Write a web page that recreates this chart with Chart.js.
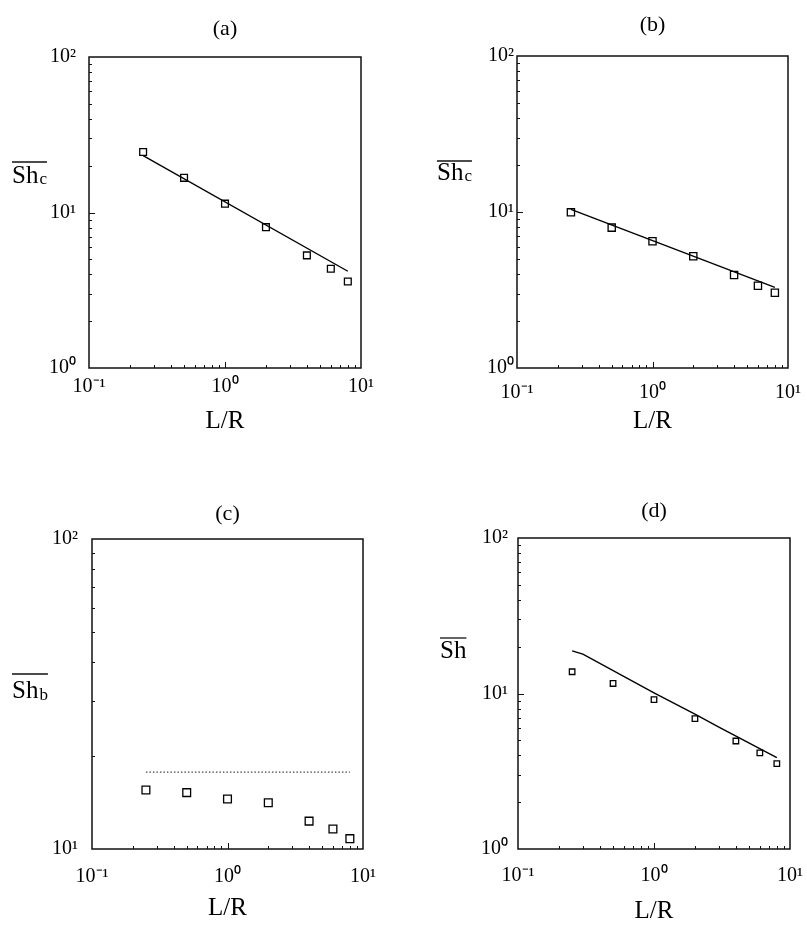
<!DOCTYPE html>
<html>
<head>
<meta charset="utf-8">
<script src="https://cdn.jsdelivr.net/npm/chart.js@4/dist/chart.umd.min.js"></script>
<style>
  html, body { margin: 0; padding: 0; background: #fff; overflow: hidden; }
  #wrap { position: relative; width: 807px; height: 925px; background: #fff; }
  canvas { position: absolute; }
</style>
</head>
<body>
<div id="wrap">
  <canvas id="ca" width="400" height="438" style="left:0px;top:0px"></canvas>
  <canvas id="cb" width="407" height="438" style="left:400px;top:0px"></canvas>
  <canvas id="cc" width="400" height="474" style="left:0px;top:450px"></canvas>
  <canvas id="cd" width="407" height="477" style="left:400px;top:450px"></canvas>
</div>
<script>
// ---------- data ----------
const lOverR = [0.25, 0.5, 1, 2, 4, 6, 8];

const shcA = [24.5, 16.7, 11.4, 8.05, 5.3, 4.35, 3.6];
const fitAX = [0.25, 8];
const fitAY = [23.2, 4.19];

const shcB = [9.95, 7.94, 6.49, 5.2, 3.95, 3.37, 3.04];
const fitBX = [0.25, 8];
const fitBY = [10.4, 3.29];

const shbC = [15.5, 15.2, 14.5, 14.1, 12.3, 11.6, 10.8];
const refCX = [0.25, 8];
const refCY = [17.7, 17.7];

const shD = [13.8, 11.6, 9.14, 6.9, 4.95, 4.15, 3.54];
const fitDX = [0.25, 0.3, 1, 2, 3, 8];
const fitDY = [18.8, 17.9, 10.1, 7.36, 6.07, 3.87];

// ---------- tick labels ----------
const xTickValues = [0.1, 1, 10];
const xTickLabels = ['10\u207B\u00B9', '10\u2070', '10\u00B9'];
const yTickValuesFull = [1, 10, 100];
const yTickLabelsFull = ['10\u2070', '10\u00B9', '10\u00B2'];
const yTickValuesC = [10, 100];
const yTickLabelsC = ['10\u00B9', '10\u00B2'];

const FONT = "'Liberation Serif', 'Times New Roman', serif";

function pairs(xs, ys) { return xs.map((x, i) => ({ x: x, y: ys[i] })); }

// minor tick positions for log axes (1..9 times each decade)
function logMinor(min, max) {
  const out = [];
  for (let e = Math.floor(Math.log10(min)); e < Math.ceil(Math.log10(max)); e++) {
    for (let k = 1; k <= 9; k++) {
      const v = k * Math.pow(10, e);
      if (v > min * 1.0001 && v < max * 0.9999) out.push(v);
    }
  }
  return out;
}

const framePlugin = {
  id: 'frame',
  afterDatasetsDraw(chart, args, opts) {
    const { ctx, chartArea: a, scales } = chart;
    ctx.save();
    ctx.strokeStyle = '#111';
    ctx.lineWidth = 1.5;
    ctx.strokeRect(a.left, a.top, a.right - a.left, a.bottom - a.top);
    ctx.lineWidth = 1;
    // inward ticks on left and bottom axes
    const xs = scales.x, ys = scales.y;
    logMinor(xs.min, xs.max).forEach(v => {
      const p = Math.round(xs.getPixelForValue(v)) + 0.5;
      const len = Math.abs(Math.log10(v) - Math.round(Math.log10(v))) < 1e-6 ? 6 : 3;
      ctx.beginPath(); ctx.moveTo(p, a.bottom); ctx.lineTo(p, a.bottom - len); ctx.stroke();
    });
    logMinor(ys.min, ys.max).forEach(v => {
      const p = Math.round(ys.getPixelForValue(v)) + 0.5;
      const len = Math.abs(Math.log10(v) - Math.round(Math.log10(v))) < 1e-6 ? 6 : 3;
      ctx.beginPath(); ctx.moveTo(a.left, p); ctx.lineTo(a.left + len, p); ctx.stroke();
    });
    // horizontal y-axis label with overline and subscript
    const yl = opts.label;
    if (yl) {
      ctx.fillStyle = '#000';
      ctx.textBaseline = 'alphabetic';
      ctx.textAlign = 'left';
      ctx.font = yl.size + 'px ' + FONT;
      ctx.fillText(yl.text, yl.x, yl.base);
      let w = ctx.measureText(yl.text).width;
      if (yl.sub) {
        ctx.font = yl.subSize + 'px ' + FONT;
        ctx.fillText(yl.sub, yl.x + w + 1, yl.base + yl.subDrop);
        w += 1 + ctx.measureText(yl.sub).width;
      }
      ctx.lineWidth = 1.3;
      ctx.beginPath();
      ctx.moveTo(yl.x, yl.over);
      ctx.lineTo(yl.x + w, yl.over);
      ctx.stroke();
    }
    ctx.restore();
  }
};

function makeChart(id, p) {
  const ticksX = xTickValues, labX = xTickLabels;
  const datasets = [
    {
      data: pairs(lOverR, p.pts),
      showLine: false,
      pointStyle: 'rect',
      pointRadius: p.r,
      pointBorderWidth: 1.3,
      pointBorderColor: '#000',
      pointBackgroundColor: 'rgba(255,255,255,0)',
      borderColor: '#000',
      backgroundColor: 'rgba(255,255,255,0)'
    },
    {
      data: pairs(p.lx, p.ly),
      showLine: true,
      pointRadius: 0,
      borderColor: p.dotted ? '#444' : '#000',
      borderWidth: p.dotted ? 1.2 : 1.4,
      borderDash: p.dotted ? [1.5, 2] : [],
      tension: 0,
      fill: false
    }
  ];
  return new Chart(document.getElementById(id), {
    type: 'scatter',
    data: { datasets: datasets },
    options: {
      responsive: false,
      animation: false,
      devicePixelRatio: 1,
      layout: { padding: { left: 0, top: 0, right: p.w - p.R, bottom: p.h - p.B - p.H } },
      plugins: {
        legend: { display: false },
        tooltip: { enabled: false },
        title: {
          display: true, text: p.title, fullSize: false, color: '#000',
          font: { family: FONT, size: 22, weight: 'normal', lineHeight: 1.2 },
          padding: { top: p.tTop, bottom: p.T - p.tTop - 26.4 }
        },
        frame: { label: p.label }
      },
      scales: {
        x: {
          type: 'logarithmic', position: 'bottom', min: 0.1, max: 10,
          grid: { display: false, drawTicks: false },
          border: { display: false },
          afterBuildTicks: s => { s.ticks = ticksX.map(v => ({ value: v, major: true })); },
          afterFit: s => { s.height = p.H; s.paddingLeft = 0; s.paddingRight = 0; },
          ticks: {
            autoSkip: false, maxRotation: 0, padding: p.xPad, color: '#000',
            font: { family: FONT, size: 20 },
            callback: (v) => { const i = ticksX.findIndex(t => Math.abs(t - v) < 1e-9); return i >= 0 ? labX[i] : ''; }
          },
          title: {
            display: true, text: 'L/R', color: '#000',
            font: { family: FONT, size: 25, lineHeight: 1.2 },
            padding: { top: 0, bottom: p.xtPad }
          }
        },
        y: {
          type: 'logarithmic', position: 'left', min: p.yMin, max: 100,
          grid: { display: false, drawTicks: false },
          border: { display: false },
          afterBuildTicks: s => { s.ticks = p.yVals.map(v => ({ value: v, major: true })); },
          afterFit: s => { s.width = p.L; s.paddingTop = 0; s.paddingBottom = 0; },
          ticks: {
            autoSkip: false, padding: p.yPad, color: '#000',
            font: { family: FONT, size: 20 },
            callback: (v) => { const i = p.yVals.findIndex(t => Math.abs(t - v) < 1e-9); return i >= 0 ? p.yLabs[i] : ''; }
          },
          title: { display: false }
        }
      }
    },
    plugins: [framePlugin]
  });
}

makeChart('ca', {
  title: '(a)', w: 400, h: 438, L: 89, R: 361, T: 57, B: 368, H: 70, tTop: 15.8,
  xPad: 7, xtPad: 2, yPad: 13, yMin: 1, yVals: yTickValuesFull, yLabs: yTickLabelsFull,
  pts: shcA, lx: fitAX, ly: fitAY, r: 4.8,
  label: { text: 'Sh', sub: 'c', x: 12, base: 183, over: 162, size: 25, subSize: 17, subDrop: 1 }
});
makeChart('cb', {
  title: '(b)', w: 407, h: 438, L: 117, R: 388, T: 56, B: 368, H: 70, tTop: 11.8,
  xPad: 12.5, xtPad: 2, yPad: 3, yMin: 1, yVals: yTickValuesFull, yLabs: yTickLabelsFull,
  pts: shcB, lx: fitBX, ly: fitBY, r: 5.1,
  label: { text: 'Sh', sub: 'c', x: 37, base: 180, over: 161, size: 25, subSize: 17, subDrop: 1 }
});
makeChart('cc', {
  title: '(c)', w: 400, h: 474, L: 92, R: 363, T: 89, B: 399, H: 75, tTop: 50.8,
  xPad: 15.5, xtPad: 0.5, yPad: 14, yMin: 10, yVals: yTickValuesC, yLabs: yTickLabelsC,
  pts: shbC, lx: refCX, ly: refCY, r: 5.5, dotted: true,
  label: { text: 'Sh', sub: 'b', x: 12, base: 248, over: 224, size: 25, subSize: 17, subDrop: 2 }
});
makeChart('cd', {
  title: '(d)', w: 407, h: 477, L: 118, R: 390, T: 88, B: 399, H: 78, tTop: 47.8,
  xPad: 14.5, xtPad: 0.5, yPad: 10, yMin: 1, yVals: yTickValuesFull, yLabs: yTickLabelsFull,
  pts: shD, lx: fitDX, ly: fitDY, r: 3.9,
  label: { text: 'Sh', x: 40, base: 208, over: 188, size: 25 }
});
</script>
</body>
</html>
